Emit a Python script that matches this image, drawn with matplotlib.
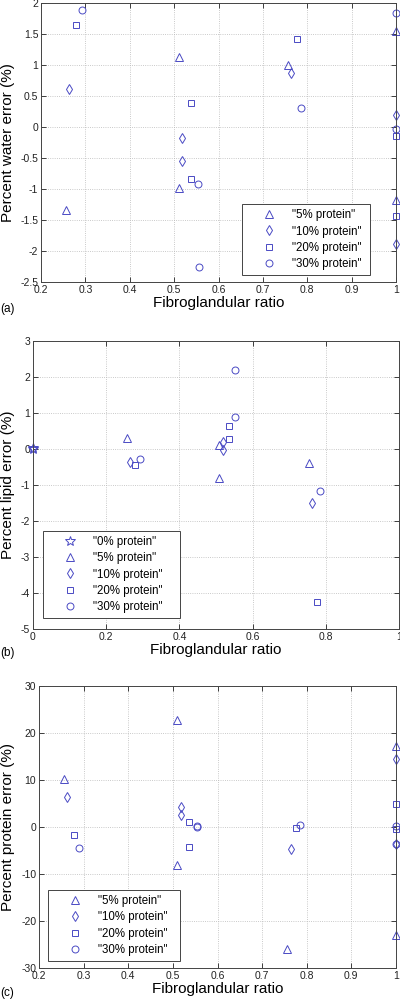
import matplotlib
matplotlib.use('Agg')
import matplotlib.pyplot as plt
from matplotlib.ticker import FuncFormatter

plt.rcParams['font.family'] = ['Liberation Sans', 'DejaVu Sans']

# (a) percent water error
wat_x5 = [0.257, 0.510, 0.510, 0.756, 1.0, 1.0]
wat_y5 = [-1.33, 1.14, -0.99, 1.0, 1.55, -1.18]
wat_x10 = [0.264, 0.518, 0.518, 0.764, 1.0, 1.0]
wat_y10 = [0.61, -0.17, -0.54, 0.87, 0.19, -1.88]
wat_x20 = [0.279, 0.537, 0.537, 0.777, 1.0, 1.0]
wat_y20 = [1.65, 0.39, -0.83, 1.42, -0.15, -1.44]
wat_x30 = [0.292, 0.553, 0.555, 0.785, 1.0, 1.0]
wat_y30 = [1.90, -0.91, -2.26, 0.31, 1.84, -0.03]

# (b) percent lipid error
lip_x0 = [0.0, 0.0]
lip_y0 = [0.03, 0.0]
lip_x5 = [0.257, 0.508, 0.508, 0.755]
lip_y5 = [0.31, -0.80, 0.12, -0.38]
lip_x10 = [0.264, 0.518, 0.518, 0.763]
lip_y10 = [-0.36, 0.20, -0.02, -1.50]
lip_x20 = [0.278, 0.536, 0.536, 0.777]
lip_y20 = [-0.45, 0.65, 0.28, -4.25]
lip_x30 = [0.292, 0.553, 0.553, 0.785]
lip_y30 = [-0.28, 2.18, 0.89, -1.17]

# (c) percent protein error
pro_x5 = [0.257, 0.509, 0.509, 0.755, 1.0, 1.0]
pro_y5 = [10.3, 22.7, -8.1, -26.0, 17.2, -23.0]
pro_x10 = [0.263, 0.518, 0.518, 0.764, 1.0, 1.0]
pro_y10 = [6.3, 4.3, 2.5, -4.7, 14.5, -3.7]
pro_x20 = [0.278, 0.536, 0.536, 0.776, 1.0, 1.0]
pro_y20 = [-1.6, 1.1, -4.2, -0.1, 4.8, -0.5]
pro_x30 = [0.290, 0.553, 0.554, 0.785, 1.0, 1.0]
pro_y30 = [-4.4, 0.2, 0.1, 0.4, 0.2, -3.7]

labels = ['"0% protein"', '"5% protein"', '"10% protein"', '"20% protein"', '"30% protein"']
col = '#4a4ac4'
mk = {'0': '*', '5': '^', '10': 'd', '20': 's', '30': 'o'}
ms = {'0': 7, '5': 5.5, '10': 5, '20': 4, '30': 5}

fmt = FuncFormatter(lambda v, p: '%g' % round(v, 6))


def style(ax):
    ax.grid(True, linestyle=':', color='#b8b8b8', linewidth=0.6)
    ax.set_axisbelow(True)
    ax.tick_params(direction='in', top=True, right=True, length=3.5, width=0.6,
                   labelsize=7.5, colors='#222222', pad=2)
    for s in ax.spines.values():
        s.set_color('#444444')
        s.set_linewidth(0.7)
    ax.xaxis.set_major_formatter(fmt)
    ax.yaxis.set_major_formatter(fmt)
    ax.set_xlabel('Fibroglandular ratio', fontsize=11, labelpad=1)


def pts(ax, x, y, key, lab):
    ax.plot(x, y, linestyle='none', marker=mk[key], markersize=ms[key],
            markerfacecolor='none', markeredgecolor=col, markeredgewidth=0.7,
            label=lab, clip_on=False)


def leg(ax, x0, y0, w):
    lg = ax.legend(loc='lower left', bbox_to_anchor=(x0, y0, w, 0.2), mode='expand',
                   fontsize=8.3, fancybox=False, framealpha=1, edgecolor='#444444',
                   borderpad=0.45, handlelength=3.8, handletextpad=0.1,
                   labelspacing=0.36, numpoints=1, borderaxespad=0)
    lg.get_frame().set_linewidth(0.7)


fig = plt.figure(figsize=(4, 10.02), dpi=100)

# panel a
ax1 = fig.add_axes([0.1025, 0.7186, 0.8875, 0.278])
pts(ax1, wat_x5, wat_y5, '5', labels[1])
pts(ax1, wat_x10, wat_y10, '10', labels[2])
pts(ax1, wat_x20, wat_y20, '20', labels[3])
pts(ax1, wat_x30, wat_y30, '30', labels[4])
ax1.set_xlim(0.2, 1)
ax1.set_ylim(-2.5, 2)
ax1.set_xticks([0.2, 0.3, 0.4, 0.5, 0.6, 0.7, 0.8, 0.9, 1.0])
ax1.set_yticks([-2.5, -2, -1.5, -1, -0.5, 0, 0.5, 1, 1.5, 2])
style(ax1)
ax1.set_ylabel('Percent water error (%)', fontsize=11)
ax1.yaxis.set_label_coords(-0.073, 0.5)
leg(ax1, 0.566, 0.025, 0.3606)
fig.text(0.0, 1 - 309 / 1002, '(a)', fontsize=8.5, va='center', ha='left')

# panel b
ax2 = fig.add_axes([0.0825, 0.3723, 0.915, 0.2874])
pts(ax2, lip_x0, lip_y0, '0', labels[0])
pts(ax2, lip_x5, lip_y5, '5', labels[1])
pts(ax2, lip_x10, lip_y10, '10', labels[2])
pts(ax2, lip_x20, lip_y20, '20', labels[3])
pts(ax2, lip_x30, lip_y30, '30', labels[4])
ax2.set_xlim(0, 1)
ax2.set_ylim(-5, 3)
ax2.set_xticks([0, 0.2, 0.4, 0.6, 0.8, 1.0])
ax2.set_yticks([-5, -4, -3, -2, -1, 0, 1, 2, 3])
style(ax2)
ax2.set_ylabel('Percent lipid error (%)', fontsize=11)
ax2.yaxis.set_label_coords(-0.049, 0.5)
leg(ax2, 0.027, 0.038, 0.374)
fig.text(0.0, 1 - 653 / 1002, '(b)', fontsize=8.5, va='center', ha='left')

# panel c
ax3 = fig.add_axes([0.0975, 0.0339, 0.8925, 0.2814])
pts(ax3, pro_x5, pro_y5, '5', labels[1])
pts(ax3, pro_x10, pro_y10, '10', labels[2])
pts(ax3, pro_x20, pro_y20, '20', labels[3])
pts(ax3, pro_x30, pro_y30, '30', labels[4])
ax3.set_xlim(0.2, 1)
ax3.set_ylim(-30, 30)
ax3.set_xticks([0.2, 0.3, 0.4, 0.5, 0.6, 0.7, 0.8, 0.9, 1.0])
ax3.set_yticks([-30, -20, -10, 0, 10, 20, 30])
style(ax3)
ax3.set_ylabel('Percent protein error (%)', fontsize=11)
ax3.yaxis.set_label_coords(-0.067, 0.5)
leg(ax3, 0.025, 0.025, 0.37)
fig.text(0.0, 1 - 993 / 1002, '(c)', fontsize=8.5, va='center', ha='left')

fig.savefig('out.png', dpi=100)
